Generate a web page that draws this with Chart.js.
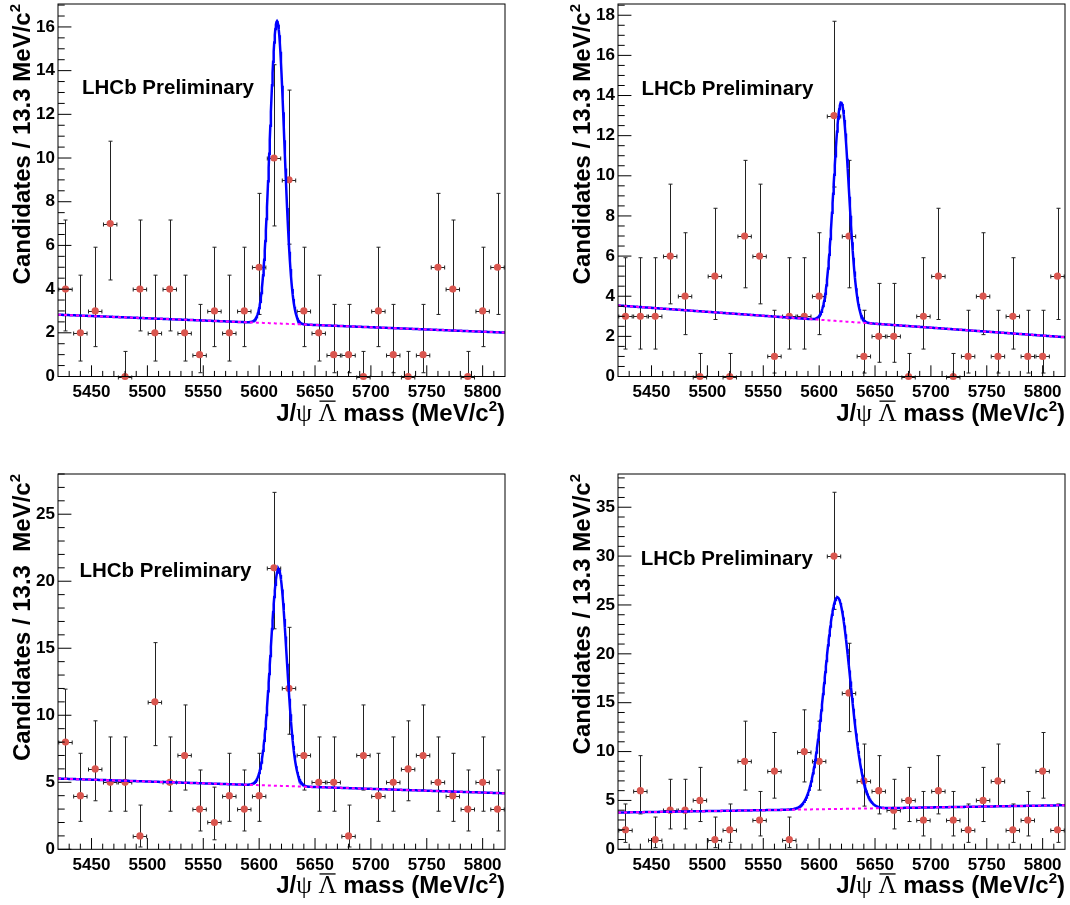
<!DOCTYPE html>
<html>
<head>
<meta charset="utf-8">
<script src="https://cdn.jsdelivr.net/npm/chart.js@4.4.1/dist/chart.umd.min.js"></script>
<style>
  body { margin: 0; background: #fff; }
  #wrap { position: relative; width: 1070px; height: 905px; }
  #wrap canvas { position: absolute; }
</style>
</head>
<body>
<div id="wrap">
  <canvas id="cTL" width="535" height="452" style="left:0;top:0"></canvas>
  <canvas id="cTR" width="535" height="452" style="left:535px;top:0"></canvas>
  <canvas id="cBL" width="535" height="453" style="left:0;top:452px"></canvas>
  <canvas id="cBR" width="535" height="453" style="left:535px;top:452px"></canvas>
</div>
<script>
// bin centres (13.3 MeV bins from 5420 to 5820)
const binCenters = [5426.7, 5440.0, 5453.3, 5466.7, 5480.0, 5493.3, 5506.7, 5520.0, 5533.3, 5546.7,
                    5560.0, 5573.3, 5586.7, 5600.0, 5613.3, 5626.7, 5640.0, 5653.3, 5666.7, 5680.0,
                    5693.3, 5706.7, 5720.0, 5733.3, 5746.7, 5760.0, 5773.3, 5786.7, 5800.0, 5813.3];

// candidates per bin, one array per panel
const countsTL = [4, 2, 3, 7, 0, 4, 2, 4, 2, 1, 3, 2, 3, 5, 10, 9, 3, 2, 1, 1, 0, 3, 1, 0, 1, 5, 4, 0, 3, 5];
const countsTR = [3, 3, 3, 6, 4, 0, 5, 0, 7, 6, 1, 3, 3, 4, 13, 7, 1, 2, 2, 0, 3, 5, 0, 1, 4, 1, 3, 1, 1, 5];
const countsBL = [8, 4, 6, 5, 5, 1, 11, 5, 7, 3, 2, 4, 3, 4, 21, 12, 7, 5, 5, 1, 7, 4, 5, 6, 7, 5, 4, 3, 5, 3];
const countsBR = [2, 6, 1, 4, 4, 5, 1, 2, 9, 3, 8, 1, 10, 9, 30, 16, 7, 6, 4, 5, 3, 6, 3, 2, 5, 7, 2, 3, 8, 2];

// 68% Poisson intervals [low, high] for the counts that appear
const poissonInterval = {
  0: [0, 1.148], 1: [0.173, 3.300], 2: [0.708, 4.638], 3: [1.367, 5.918], 4: [2.086, 7.163],
  5: [2.840, 8.382], 6: [3.620, 9.584], 7: [4.419, 10.77], 8: [5.232, 11.95], 9: [6.057, 13.11],
  10: [6.891, 14.27], 11: [7.734, 15.42], 12: [8.585, 16.56], 13: [9.441, 17.70],
  16: [12.04, 21.08], 21: [16.45, 26.63], 30: [24.55, 36.53]
};

// fitted model per panel: gaussian signal on a linear background (TL, TR, BL, BR)
const fitMean   = [5616.0, 5619.7, 5617.3, 5616.3];
const fitSigma  = [6.5, 6.9, 7.2, 11.6];
const fitAmp    = [13.84, 10.9, 16.17, 21.65];
const bgAtLow   = [2.83, 3.54, 5.28, 3.76];   // background at 5420
const bgAtHigh  = [2.01, 1.96, 4.18, 4.51];   // background at 5820

// axis ranges and tick labels
const xMin = 5420, xMax = 5820;
const xTickValues = [5450, 5500, 5550, 5600, 5650, 5700, 5750, 5800];
const yMaxes = [17.05, 18.56, 28.0, 38.4];
const yTicksTL = [0, 2, 4, 6, 8, 10, 12, 14, 16];
const yTicksTR = [0, 2, 4, 6, 8, 10, 12, 14, 16, 18];
const yTicksBL = [0, 5, 10, 15, 20, 25];
const yTicksBR = [0, 5, 10, 15, 20, 25, 30, 35];

const SANS = "'Liberation Sans', Arial, Helvetica, sans-serif";
const SERIF = "'Liberation Serif', 'Times New Roman', serif";

function bg(i, m) {
  return bgAtLow[i] + (bgAtHigh[i] - bgAtLow[i]) * (m - xMin) / (xMax - xMin);
}
function total(i, m) {
  const d = (m - fitMean[i]) / fitSigma[i];
  return bg(i, m) + fitAmp[i] * Math.exp(-0.5 * d * d);
}

// error bars under the markers
const errorBars = {
  id: 'errorBars',
  beforeDatasetsDraw(chart, args, o) {
    const { ctx, scales: { x, y } } = chart;
    const cap = 2, xErr = 6.0;
    ctx.save();
    ctx.strokeStyle = '#222';
    ctx.lineWidth = 1;
    ctx.beginPath();
    o.counts.forEach((n, j) => {
      const [lo, hi] = poissonInterval[n];
      const px = Math.round(x.getPixelForValue(binCenters[j])) + 0.5;
      const py = Math.round(y.getPixelForValue(n)) + 0.5;
      const yl = y.getPixelForValue(lo), yh = y.getPixelForValue(hi);
      const xl = x.getPixelForValue(binCenters[j] - xErr), xr = x.getPixelForValue(binCenters[j] + xErr);
      ctx.moveTo(px, yl); ctx.lineTo(px, yh);
      ctx.moveTo(px - cap, yh); ctx.lineTo(px + cap, yh);
      if (n > 0) { ctx.moveTo(px - cap, yl); ctx.lineTo(px + cap, yl); }
      ctx.moveTo(xl, py); ctx.lineTo(xr, py);
      ctx.moveTo(xl, py - cap); ctx.lineTo(xl, py + cap);
      ctx.moveTo(xr, py - cap); ctx.lineTo(xr, py + cap);
    });
    ctx.stroke();
    ctx.restore();
  }
};

// ROOT-style frame, inward ticks and texts
const rootFrame = {
  id: 'rootFrame',
  afterDatasetsDraw(chart, args, o) {
    const { ctx, chartArea: a, scales: { x, y } } = chart;
    const w = a.right - a.left, h = a.bottom - a.top;
    ctx.save();
    ctx.strokeStyle = '#000';
    ctx.lineWidth = 1;
    ctx.strokeRect(a.left, a.top, w, h);

    ctx.beginPath();
    const majY = 0.03 * w, majX = 0.03 * h;
    const yStep = o.yTicks[1] - o.yTicks[0];
    for (let k = 0; k * o.yMinor <= y.max + 1e-9; k++) {
      const v = k * o.yMinor;
      const major = Math.abs(v / yStep - Math.round(v / yStep)) < 1e-6;
      const py = y.getPixelForValue(v);
      ctx.moveTo(a.left, py); ctx.lineTo(a.left + (major ? majY : majY / 2), py);
    }
    for (let v = xMin + 10; v < xMax; v += 10) {
      const major = xTickValues.includes(v);
      const px = x.getPixelForValue(v);
      ctx.moveTo(px, a.bottom); ctx.lineTo(px, a.bottom - (major ? majX : majX / 2));
    }
    ctx.stroke();

    ctx.fillStyle = '#000';
    ctx.textBaseline = 'alphabetic';

    // LHCb Preliminary
    ctx.font = 'bold 20.5px ' + SANS;
    ctx.textAlign = 'left';
    ctx.fillText('LHCb Preliminary', a.left + o.tag[0], a.top + o.tag[1]);

    // x title: J/psi Lambda-bar mass (MeV/c^2), right aligned
    const bold = 'bold 24px ' + SANS, greek = '25px ' + SERIF, sup = 'bold 15px ' + SANS;
    const parts = [
      { t: 'J/', f: bold }, { t: 'ψ', f: greek }, { t: ' ', f: bold },
      { t: 'Λ', f: greek, bar: true }, { t: ' mass (MeV/c', f: bold },
      { t: '2', f: sup, up: 10 }, { t: ')', f: bold }
    ];
    let len = 0;
    parts.forEach(p => { ctx.font = p.f; p.w = ctx.measureText(p.t).width; len += p.w; });
    let cx = a.right - len;
    const base = a.bottom + 44;
    parts.forEach(p => {
      ctx.font = p.f;
      ctx.fillText(p.t, cx, base - (p.up || 0));
      if (p.bar) { ctx.fillRect(cx + 1, base - 20, p.w - 2, 1.3); }
      cx += p.w;
    });

    // y title, rotated, ending at the top of the frame
    ctx.font = bold;
    const mainW = ctx.measureText(o.yTitle).width;
    ctx.font = sup;
    const supW = ctx.measureText('2').width;
    ctx.translate(a.left - 28.5, a.top + mainW + supW);
    ctx.rotate(-Math.PI / 2);
    ctx.font = bold;
    ctx.fillText(o.yTitle, 0, 0);
    ctx.font = sup;
    ctx.fillText('2', mainW, -10);
    ctx.restore();
  }
};

const panels = [
  { id: 'cTL', counts: countsTL, yTicks: yTicksTL, yMinor: 0.5, yTitle: 'Candidates / 13.3 MeV/c',
    yAxisW: 58, padRight: 30, padTop: 2, xAxisH: 75.5, tag: [24, 90] },
  { id: 'cTR', counts: countsTR, yTicks: yTicksTR, yMinor: 0.5, yTitle: 'Candidates / 13.3 MeV/c',
    yAxisW: 83, padRight: 5, padTop: 2, xAxisH: 75.5, tag: [23.4, 91] },
  { id: 'cBL', counts: countsBL, yTicks: yTicksBL, yMinor: 1, yTitle: 'Candidates / 13.3  MeV/c',
    yAxisW: 58, padRight: 30, padTop: 22, xAxisH: 55.7, tag: [21.4, 103] },
  { id: 'cBR', counts: countsBR, yTicks: yTicksBR, yMinor: 1, yTitle: 'Candidates / 13.3 MeV/c',
    yAxisW: 83, padRight: 5, padTop: 22, xAxisH: 55.7, tag: [22.8, 91] }
];

const tickFont = { family: SANS, weight: 'bold', size: 17 };

panels.forEach((p, i) => {
  // evaluate the fitted pdf along the mass axis
  const bgCurve = [], totCurve = [];
  for (let m = xMin; m <= xMax; m += 0.5) {
    bgCurve.push({ x: m, y: bg(i, m) });
    totCurve.push({ x: m, y: total(i, m) });
  }
  const points = binCenters.map((m, j) => ({ x: m, y: p.counts[j] }));

  new Chart(document.getElementById(p.id), {
    type: 'scatter',
    data: {
      datasets: [
        { type: 'line', data: bgCurve, borderColor: '#ff00ff', borderWidth: 2, borderDash: [3, 3],
          pointRadius: 0, fill: false, order: 0 },
        { type: 'line', data: totCurve, borderColor: '#0000ff', borderWidth: 2.5,
          pointRadius: 0, fill: false, order: 1 },
        { data: points, backgroundColor: '#d9564f', borderWidth: 0, pointRadius: 3.6,
          clip: false, order: 2 }
      ]
    },
    options: {
      responsive: false,
      animation: false,
      events: [],
      layout: { padding: { left: 0, right: p.padRight, top: p.padTop, bottom: 0 } },
      plugins: {
        legend: { display: false },
        tooltip: { enabled: false },
        errorBars: { counts: p.counts },
        rootFrame: { yTicks: p.yTicks, yMinor: p.yMinor, yTitle: p.yTitle, tag: p.tag }
      },
      scales: {
        x: {
          type: 'linear', min: xMin, max: xMax,
          afterBuildTicks: s => { s.ticks = xTickValues.map(v => ({ value: v })); },
          afterFit: s => { s.height = p.xAxisH; s.paddingLeft = 0; s.paddingRight = 0; },
          grid: { display: false, drawTicks: false },
          border: { display: false },
          ticks: { font: tickFont, color: '#000', padding: 6, maxRotation: 0, autoSkip: false,
                   callback: v => String(v) }
        },
        y: {
          type: 'linear', min: 0, max: yMaxes[i],
          afterBuildTicks: s => { s.ticks = p.yTicks.map(v => ({ value: v })); },
          afterFit: s => { s.width = p.yAxisW; s.paddingTop = 0; s.paddingBottom = 0; },
          grid: { display: false, drawTicks: false },
          border: { display: false },
          ticks: { font: tickFont, color: '#000', padding: 3, autoSkip: false,
                   callback: v => String(v) }
        }
      }
    },
    plugins: [errorBars, rootFrame]
  });
});
</script>
</body>
</html>
